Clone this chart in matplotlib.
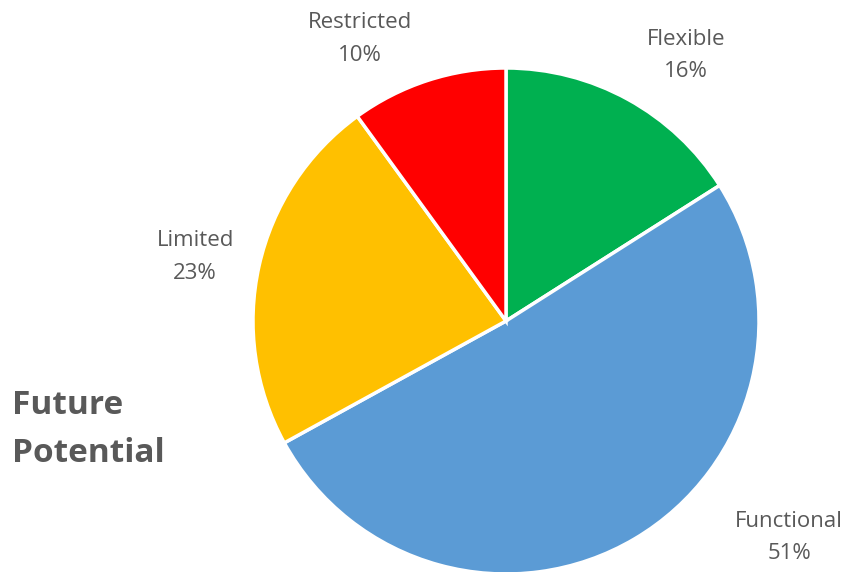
import matplotlib
matplotlib.use("Agg")
import matplotlib.pyplot as plt

categories = ["Flexible", "Functional", "Limited", "Restricted"]
shares = [16, 51, 23, 10]
colors = ["#00B050", "#5B9BD5", "#FFC000", "#FF0000"]
title_lines = ["Future", "Potential"]

# label anchors in pie-radius units, relative to the pie centre
label_pos = [(0.711, 1.050), (1.119, -0.855), (-1.229, 0.252), (-0.577, 1.114)]

W, H = 848, 572
cx, cy, R = 506, 321, 253

fig = plt.figure(figsize=(W / 100, H / 100), dpi=100)
fig.patch.set_facecolor("white")
ax = fig.add_axes([(cx - R) / W, (H - cy - R) / H, 2 * R / W, 2 * R / H])
ax.pie(shares, colors=colors, startangle=90, counterclock=False,
       wedgeprops=dict(edgecolor="white", linewidth=2.5))
ax.set_xlim(-1, 1)
ax.set_ylim(-1, 1)
ax.set_aspect("equal")
ax.axis("off")

txt_color = "#595959"
for name, val, (x, y) in zip(categories, shares, label_pos):
    ax.text(x, y, f"{name}\n{val}%", ha="center", va="center",
            fontsize=16, color=txt_color, family="Open Sans",
            linespacing=1.72)

fig.text(12 / W, 1 - 405 / H, title_lines[0], ha="left", va="center",
         fontsize=24, fontweight="bold", color=txt_color, family="Open Sans")
fig.text(12 / W, 1 - 453 / H, title_lines[1], ha="left", va="center",
         fontsize=24, fontweight="bold", color=txt_color, family="Open Sans")

fig.savefig("out.png", dpi=100, facecolor="white")
